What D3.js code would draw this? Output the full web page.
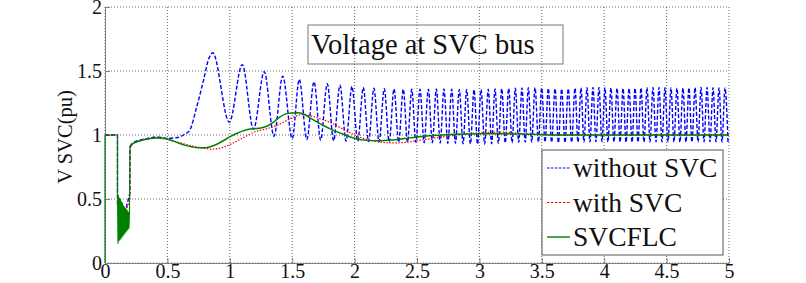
<!DOCTYPE html>
<html>
<head>
<meta charset="utf-8">
<script src="https://cdn.jsdelivr.net/npm/d3@7"></script>
<style>
  html, body { margin: 0; padding: 0; background: #fff; }
  svg { display: block; }
</style>
</head>
<body>
<div id="chart"></div>
<script>
// ---- data ----
const xTicks = [0, 0.5, 1, 1.5, 2, 2.5, 3, 3.5, 4, 4.5, 5];
const xTickLabels = ["0", "0.5", "1", "1.5", "2", "2.5", "3", "3.5", "4", "4.5", "5"];
const yTicks = [0, 0.5, 1, 1.5, 2];
const yTickLabels = ["0", "0.5", "1", "1.5", "2"];

const titleText = "Voltage at SVC bus";
const yLabel = "V SVC(pu)";
const seriesNames = ["without SVC", "with SVC", "SVCFLC"];

// fault period (0 - 0.2 s), SVCFLC trace
const faultT = [0, 0, 0.1, 0.1, 0.104, 0.108, 0.112, 0.116, 0.120, 0.124, 0.128, 0.132, 0.136,
  0.140, 0.144, 0.148, 0.152, 0.156, 0.160, 0.164, 0.168, 0.172, 0.176, 0.180, 0.184, 0.188,
  0.192, 0.196, 0.2];
const greenFaultV = [0, 1, 1, 0.55, 0.15, 0.53, 0.17, 0.51, 0.18, 0.50, 0.19, 0.48, 0.20,
  0.47, 0.21, 0.45, 0.22, 0.44, 0.23, 0.43, 0.24, 0.42, 0.25, 0.41, 0.26, 0.40,
  0.27, 0.38, 0.9];

// fault period for the other two traces (mostly hidden under the green one)
const otherFaultT = [0, 0.1, 0.1, 0.15, 0.2, 0.2];
const blueFaultV = [1, 1, 0.45, 0.35, 0.55, 0.91];
const redFaultV = [1, 1, 0.45, 0.35, 0.5, 0.9];

// SVCFLC after fault clearing
const greenT = [0.2, 0.22, 0.25, 0.3, 0.35, 0.4, 0.45, 0.5, 0.55, 0.6, 0.65, 0.7, 0.75, 0.8,
  0.85, 0.9, 0.95, 1.0, 1.05, 1.1, 1.15, 1.2, 1.25, 1.3, 1.35, 1.4, 1.45, 1.5, 1.55, 1.6,
  1.65, 1.7, 1.75, 1.8, 1.9, 2.0, 2.1, 2.2, 2.3, 2.4, 2.5, 2.6, 2.7, 2.8, 3.0, 3.2, 3.4,
  3.6, 4.0, 4.5, 5.0];
const greenV = [0.9, 0.93, 0.945, 0.96, 0.97, 0.977, 0.977, 0.968, 0.952, 0.933, 0.917, 0.906,
  0.9, 0.9, 0.91, 0.93, 0.957, 0.985, 1.01, 1.03, 1.045, 1.05, 1.055, 1.07, 1.1, 1.14, 1.165,
  1.172, 1.174, 1.16, 1.13, 1.1, 1.075, 1.05, 1.01, 0.975, 0.958, 0.955, 0.96, 0.972, 0.985,
  0.995, 1.0, 1.005, 1.01, 1.01, 1.005, 1.0, 1.0, 1.0, 1.0];

// with SVC after fault clearing
const redT = [0.2, 0.22, 0.25, 0.3, 0.4, 0.5, 0.6, 0.7, 0.8, 0.85, 0.9, 0.95, 1.0, 1.1, 1.2,
  1.3, 1.4, 1.5, 1.58, 1.65, 1.7, 1.8, 1.9, 2.0, 2.1, 2.2, 2.3, 2.4, 2.5, 2.6, 2.7, 2.8, 2.9,
  3.0, 3.1, 3.2, 3.3, 3.4, 3.6, 4.0, 4.5, 5.0];
const redV = [0.9, 0.93, 0.945, 0.96, 0.975, 0.965, 0.94, 0.915, 0.895, 0.89, 0.893, 0.905,
  0.925, 0.975, 1.025, 1.05, 1.085, 1.135, 1.16, 1.15, 1.135, 1.10, 1.05, 1.0, 0.965, 0.945,
  0.938, 0.942, 0.955, 0.97, 0.985, 0.998, 1.01, 1.017, 1.022, 1.022, 1.015, 1.008, 1.0,
  1.0, 1.0, 1.0];

// without SVC: recovery, then the oscillation (peaks and troughs)
const blueT = [0.2, 0.22, 0.28, 0.35, 0.41, 0.5, 0.58, 0.63, 0.68, 0.735, 0.79, 0.828, 0.863,
  0.996, 1.100, 1.190, 1.276, 1.354, 1.424, 1.500, 1.557, 1.617, 1.675, 1.728, 1.781, 1.832,
  1.883, 1.931, 1.979, 2.025, 2.070, 2.112, 2.155, 2.196, 2.238, 2.277, 2.316, 2.353, 2.390,
  2.424, 2.458, 2.491, 2.524, 2.557, 2.591, 2.623, 2.655, 2.686, 2.716, 2.747, 2.778, 2.808,
  2.839, 2.869, 2.898, 2.928, 2.957, 2.985, 3.013, 3.042, 3.071, 3.098, 3.125, 3.152, 3.179,
  3.207, 3.235, 3.262, 3.288, 3.315, 3.341, 3.367, 3.392, 3.419, 3.446, 3.473, 3.499, 3.526,
  3.552, 3.579, 3.606, 3.633, 3.659, 3.686, 3.712, 3.739, 3.766, 3.790, 3.814, 3.838, 3.862,
  3.886, 3.910, 3.934, 3.958, 3.982, 4.006, 4.030, 4.054, 4.078, 4.103, 4.127, 4.151, 4.175,
  4.199, 4.223, 4.247, 4.271, 4.295, 4.319, 4.343, 4.367, 4.391, 4.415, 4.439, 4.463, 4.487,
  4.511, 4.535, 4.559, 4.583, 4.607, 4.631, 4.655, 4.679, 4.703, 4.728, 4.752, 4.776, 4.800,
  4.824, 4.848, 4.872, 4.896, 4.920, 4.944, 4.968, 4.992];
const blueV = [0.91, 0.935, 0.96, 0.975, 0.985, 0.974, 0.98, 1.0, 1.04, 1.22, 1.43, 1.586, 1.643,
  1.10, 1.55, 1.045, 1.495, 0.99, 1.46, 0.972, 1.435, 0.965, 1.416, 0.96, 1.40, 0.955,
  1.39, 0.952, 1.38, 0.95, 1.372, 0.948, 1.366, 0.946, 1.362, 0.945, 1.36, 0.944, 1.358,
  0.943, 1.357, 0.942, 1.357, 0.94, 1.358, 0.94, 1.36, 0.938, 1.36, 0.936, 1.358, 0.935,
  1.356, 0.932, 1.355, 0.93, 1.354, 0.928, 1.355, 0.93, 1.357, 0.932, 1.36, 0.935, 1.362,
  0.938, 1.364, 0.94, 1.366, 0.942, 1.368, 0.944, 1.37, 0.945, 1.37, 0.946, 1.368, 0.945,
  1.365, 0.943, 1.362, 0.94, 1.36, 0.94, 1.362, 0.942, 1.366, 0.944, 1.368, 0.945, 1.37,
  0.946, 1.372, 0.947, 1.372, 0.947, 1.37, 0.946, 1.368, 0.945, 1.366, 0.944, 1.364, 0.943,
  1.364, 0.943, 1.366, 0.944, 1.368, 0.945, 1.37, 0.946, 1.372, 0.947, 1.372, 0.947, 1.37,
  0.946, 1.368, 0.945, 1.366, 0.944, 1.366, 0.944, 1.368, 0.945, 1.37, 0.946, 1.372, 0.947,
  1.372, 0.947, 1.37, 0.946, 1.368, 0.945, 1.368, 0.946];

// ---- layout ----
const W = 806, H = 283;
const PL = 105, PR = 729, PT = 7, PB = 263;
const SERIF = "'Liberation Serif', 'Times New Roman', Times, serif";
const BLUE = "#0000ff", RED = "#ff0000", GREEN = "#008000";

const svg = d3.select("#chart").append("svg")
  .attr("width", W).attr("height", H)
  .style("background", "#fff");

const x = d3.scaleLinear().domain([0, 5]).range([PL, PR]);
const y = d3.scaleLinear().domain([0, 2]).range([PB, PT]);

// dotted grid
const grid = svg.append("g").attr("stroke", "#555").attr("stroke-width", 0.9)
  .attr("stroke-dasharray", "1,2");
xTicks.forEach(t => {
  grid.append("line").attr("x1", x(t)).attr("x2", x(t)).attr("y1", PT).attr("y2", PB);
});
yTicks.forEach(t => {
  grid.append("line").attr("x1", PL).attr("x2", PR).attr("y1", y(t)).attr("y2", y(t));
});

// axes: left and bottom, ticks pointing inward
const xAxis = d3.axisBottom(x).tickValues(xTicks)
  .tickFormat((d, i) => xTickLabels[i]).tickSizeInner(-5).tickSizeOuter(0).tickPadding(3);
const yAxis = d3.axisLeft(y).tickValues(yTicks)
  .tickFormat((d, i) => yTickLabels[i]).tickSizeInner(-5).tickSizeOuter(0).tickPadding(3);

const gx = svg.append("g").attr("transform", `translate(0,${PB})`).call(xAxis);
const gy = svg.append("g").attr("transform", `translate(${PL},0)`).call(yAxis);
[gx, gy].forEach(g => {
  g.select(".domain").attr("stroke", "#808080");
  g.selectAll(".tick line").attr("stroke", "#808080");
  g.selectAll(".tick text").attr("fill", "#111")
    .attr("font-family", SERIF).attr("font-size", 20);
});
gx.selectAll(".tick text").attr("dy", "0.62em");
gy.selectAll(".tick text").attr("dy", "0.33em");

// y label
svg.append("text")
  .attr("transform", `translate(72,${(PT + PB) / 2 + 2}) rotate(-90)`)
  .attr("text-anchor", "middle")
  .attr("font-family", SERIF).attr("font-size", 20.5).attr("fill", "#111")
  .text(yLabel);

// ---- series ----
const zipPts = (ts, vs) => ts.map((t, i) => [t, vs[i]]);
const lineLin = d3.line().x(d => x(d[0])).y(d => y(d[1])).curve(d3.curveLinear);
const lineSmooth = d3.line().x(d => x(d[0])).y(d => y(d[1])).curve(d3.curveMonotoneX);

const series = [
  { pre: zipPts(otherFaultT, blueFaultV), post: zipPts(blueT, blueV), color: BLUE, w: 1.4, dash: "4,2" },
  { pre: zipPts(otherFaultT, redFaultV), post: zipPts(redT, redV), color: RED, w: 1.2, dash: "1.5,1.5" },
  { pre: zipPts(faultT, greenFaultV), post: zipPts(greenT, greenV), color: GREEN, w: 1.5, dash: null }
];

series.forEach(s => {
  const g = svg.append("g").attr("fill", "none").attr("stroke", s.color)
    .attr("stroke-width", s.w).attr("stroke-dasharray", s.dash);
  g.append("path").attr("d", lineLin(s.pre)).attr("stroke-width", s.dash ? s.w : 1.1);
  g.append("path").attr("d", lineSmooth(s.post));
});

// ---- title box ----
svg.append("rect").attr("x", 308).attr("y", 25).attr("width", 255).attr("height", 39)
  .attr("fill", "none").attr("stroke", "#777").attr("stroke-width", 1);
svg.append("text").attr("x", 311).attr("y", 54)
  .attr("font-family", SERIF).attr("font-size", 28.5).attr("fill", "#111")
  .text(titleText);

// ---- legend ----
const leg = svg.append("g").attr("transform", "translate(542,150)");
leg.append("rect").attr("width", 181).attr("height", 105)
  .attr("fill", "#fff").attr("stroke", "#555").attr("stroke-width", 1);
seriesNames.forEach((name, i) => {
  const s = series[i];
  const cy = 18 + i * 34.5;
  leg.append("line").attr("x1", 5).attr("x2", 28).attr("y1", cy).attr("y2", cy)
    .attr("stroke", s.color).attr("stroke-width", s.dash ? 1 : 1.4)
    .attr("stroke-dasharray", s.dash ? "2.5,1.5" : null);
  leg.append("text").attr("x", 31).attr("y", cy + 9)
    .attr("font-family", SERIF).attr("font-size", 27.5).attr("fill", "#111")
    .text(name);
});
</script>
</body>
</html>
